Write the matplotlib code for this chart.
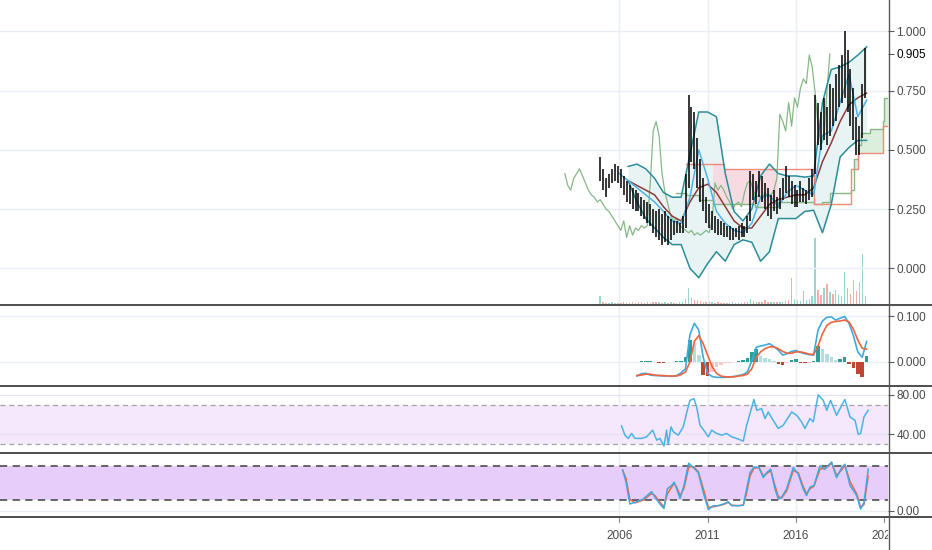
import numpy as np
import matplotlib.pyplot as plt
from matplotlib.lines import Line2D

plt.rcParams['font.family'] = ['Liberation Sans', 'DejaVu Sans']

# ---- price bars (two-month bars) ----
bar_start = 2004.92
bar_high = [
    0.47, 0.42, 0.38, 0.40, 0.42, 0.44, 0.43,
    0.42, 0.39, 0.37, 0.35, 0.34, 0.33,
    0.32, 0.30, 0.29, 0.28, 0.27, 0.25,
    0.24, 0.25, 0.23, 0.24, 0.22, 0.21,
    0.20, 0.20, 0.19, 0.22, 0.40, 0.73,
    0.68, 0.66, 0.55, 0.46, 0.38, 0.30,
    0.27, 0.24, 0.22, 0.21, 0.20, 0.19,
    0.18, 0.18, 0.17, 0.17, 0.18, 0.19,
    0.18, 0.22, 0.41, 0.40, 0.37, 0.41,
    0.39, 0.36, 0.34, 0.31, 0.33, 0.30,
    0.34, 0.38, 0.43, 0.39, 0.37, 0.35,
    0.33, 0.37, 0.34, 0.33, 0.38, 0.42,
    0.73, 0.70, 0.66, 0.72, 0.68, 0.78,
    0.76, 0.82, 0.86, 0.90, 1.00, 0.92,
    0.84, 0.76, 0.64, 0.60, 0.78, 0.93,
]
bar_low = [
    0.37, 0.33, 0.30, 0.34, 0.36, 0.37, 0.36,
    0.34, 0.31, 0.28, 0.27, 0.25, 0.24,
    0.24, 0.22, 0.21, 0.19, 0.18, 0.15,
    0.13, 0.12, 0.10, 0.11, 0.10, 0.12,
    0.14, 0.15, 0.15, 0.15, 0.17, 0.34,
    0.45, 0.42, 0.34, 0.28, 0.24, 0.19,
    0.17, 0.16, 0.15, 0.14, 0.14, 0.13,
    0.13, 0.12, 0.12, 0.13, 0.12, 0.13,
    0.13, 0.15, 0.20, 0.29, 0.27, 0.30,
    0.28, 0.25, 0.22, 0.21, 0.24, 0.23,
    0.25, 0.29, 0.32, 0.30, 0.27, 0.26,
    0.26, 0.28, 0.28, 0.27, 0.29, 0.30,
    0.40, 0.52, 0.50, 0.54, 0.52, 0.56,
    0.60, 0.62, 0.68, 0.70, 0.72, 0.66,
    0.60, 0.54, 0.48, 0.48, 0.55, 0.72,
]
bar_close = [
    0.40, 0.35, 0.33, 0.38, 0.40, 0.42, 0.39,
    0.36, 0.33, 0.31, 0.30, 0.28, 0.29,
    0.27, 0.25, 0.24, 0.22, 0.20, 0.18,
    0.16, 0.20, 0.13, 0.18, 0.14, 0.17,
    0.16, 0.18, 0.17, 0.18, 0.36, 0.58,
    0.62, 0.56, 0.40, 0.32, 0.27, 0.22,
    0.20, 0.21, 0.18, 0.17, 0.16, 0.15,
    0.16, 0.14, 0.15, 0.14, 0.15, 0.16,
    0.15, 0.20, 0.36, 0.33, 0.35, 0.33,
    0.30, 0.28, 0.25, 0.27, 0.28, 0.26,
    0.32, 0.36, 0.37, 0.33, 0.30, 0.31,
    0.29, 0.32, 0.30, 0.31, 0.33, 0.38,
    0.65, 0.62, 0.58, 0.70, 0.60, 0.72,
    0.68, 0.76, 0.80, 0.78, 0.90, 0.85,
    0.74, 0.60, 0.52, 0.55, 0.75, 0.905,
]
bar_volume = [
    12, 3, 2, 2, 3, 2, 2,
    2, 3, 2, 2, 3, 2,
    3, 4, 2, 3, 2, 3,
    4, 3, 2, 3, 2, 3,
    2, 2, 3, 4, 8, 25,
    10, 6, 7, 5, 4, 3,
    4, 3, 2, 3, 2, 2,
    2, 2, 3, 2, 2, 2,
    3, 4, 8, 5, 4, 3,
    4, 6, 3, 3, 4, 3,
    3, 4, 5, 6, 40, 8,
    6, 5, 20, 6, 8, 12,
    100, 21, 14, 25, 30, 18,
    15, 22, 14, 12, 48, 25,
    15, 36, 20, 33, 76, 13,
]
last_price = 0.905
lag_years = 2.0

# ---- overlay lines on the price pane ----
blue_t = [2006.0, 2006.5, 2007.0, 2007.5, 2008.0, 2008.5, 2009.0, 2009.5, 2010.0, 2010.5,
          2011.0, 2011.5, 2012.0, 2012.5, 2013.0, 2013.5, 2014.0, 2014.5, 2015.0, 2015.5,
          2016.0, 2016.5, 2017.0, 2017.5, 2018.0, 2018.5, 2019.0, 2019.5, 2020.0]
blue_ma = [0.40, 0.37, 0.34, 0.31, 0.28, 0.24, 0.20, 0.19, 0.30, 0.50,
           0.38, 0.24, 0.19, 0.16, 0.15, 0.19, 0.30, 0.31, 0.26, 0.32,
           0.35, 0.33, 0.31, 0.56, 0.58, 0.70, 0.82, 0.64, 0.71]

band_t = [2006.5, 2007.0, 2007.5, 2008.0, 2008.5, 2009.0, 2009.5, 2010.0, 2010.5,
          2011.0, 2011.5, 2012.0, 2012.5, 2013.0, 2013.5, 2014.0, 2014.5, 2015.0, 2015.5,
          2016.0, 2016.5, 2017.0, 2017.5, 2018.0, 2018.5, 2019.0, 2019.5, 2020.0]
maroon_ma = [0.37, 0.35, 0.33, 0.31, 0.26, 0.22, 0.20, 0.28, 0.34,
             0.355, 0.32, 0.26, 0.20, 0.17, 0.17, 0.22, 0.27, 0.29, 0.30,
             0.31, 0.31, 0.34, 0.45, 0.53, 0.62, 0.69, 0.72, 0.74]
bb_upper = [0.43, 0.44, 0.42, 0.38, 0.32, 0.30, 0.30, 0.48, 0.66,
            0.66, 0.64, 0.40, 0.24, 0.20, 0.25, 0.39, 0.44, 0.40, 0.39,
            0.39, 0.385, 0.39, 0.70, 0.84, 0.85, 0.87, 0.90, 0.935]
bb_lower = [0.37, 0.28, 0.21, 0.17, 0.13, 0.10, 0.10, 0.00, -0.04,
            0.02, 0.07, 0.03, 0.10, 0.12, 0.11, 0.03, 0.07, 0.21, 0.21,
            0.21, 0.24, 0.245, 0.15, 0.27, 0.47, 0.51, 0.54, 0.54]

cloud_t = [2009.2, 2009.8, 2010.5, 2011.3, 2011.9, 2013.7, 2015.0, 2017.0, 2017.5,
           2017.9, 2019.1, 2019.3, 2019.5, 2019.7, 2020.2, 2020.9, 2021.0, 2021.3]
lead_a = [0.32, 0.31, 0.29, 0.27, 0.27, 0.26, 0.28, 0.27, 0.28,
          0.32, 0.33, 0.46, 0.52, 0.57, 0.59, 0.62, 0.72, 0.72]
lead_b = [np.nan, 0.44, 0.44, 0.44, 0.42, 0.42, 0.42, 0.27, 0.27,
          0.27, 0.42, 0.42, 0.485, 0.485, 0.485, 0.60, 0.60, 0.60]

# ---- MACD (quarterly) ----
macd_t = [2007.0 + 0.25 * k for k in range(53)]
macd_line = [-0.031, -0.026, -0.025, -0.029, -0.030, -0.030, -0.031, -0.031, -0.032, -0.030,
             -0.024, -0.015, 0.060, 0.085, 0.070, 0.010, -0.025, -0.032, -0.034, -0.034,
             -0.034, -0.033, -0.032, -0.030, -0.028, -0.022, 0.002, 0.032, 0.035, 0.037,
             0.040, 0.034, 0.026, 0.015, 0.018, 0.023, 0.025, 0.021, 0.018, 0.016,
             0.015, 0.070, 0.090, 0.098, 0.099, 0.092, 0.096, 0.100, 0.085, 0.058,
             0.022, 0.010, 0.045]
macd_signal = [-0.030, -0.029, -0.027, -0.027, -0.029, -0.030, -0.030, -0.031, -0.031, -0.031,
               -0.028, -0.022, 0.000, 0.045, 0.058, 0.040, 0.015, -0.010, -0.025, -0.031,
               -0.033, -0.033, -0.033, -0.031, -0.030, -0.027, -0.015, 0.010, 0.022, 0.029,
               0.033, 0.033, 0.029, 0.023, 0.019, 0.019, 0.022, 0.022, 0.020, 0.017,
               0.016, 0.035, 0.062, 0.080, 0.087, 0.089, 0.090, 0.092, 0.088, 0.072,
               0.048, 0.030, 0.028]
macd_hist = [0.000, 0.002, 0.003, 0.003, -0.001, -0.002, -0.002, -0.001, -0.001, 0.001,
             0.002, 0.010, 0.048, 0.040, 0.015, -0.028, -0.032, -0.022, -0.012, -0.006,
             -0.003, -0.002, -0.001, 0.001, 0.004, 0.008, 0.022, 0.028, 0.014, 0.008,
             0.006, 0.002, -0.004, -0.006, -0.003, 0.004, 0.006, -0.002, -0.003, -0.002,
             0.002, 0.036, 0.028, 0.018, 0.011, 0.004, 0.007, 0.010, -0.004, -0.014,
             -0.026, -0.034, 0.012]

# ---- RSI ----
rsi_t = [2006.13, 2006.32, 2006.51, 2006.70, 2006.89, 2007.27, 2007.55, 2007.89, 2008.12, 2008.30,
         2008.53, 2008.68, 2008.77, 2008.93, 2009.06, 2009.34, 2009.62, 2009.85, 2010.00, 2010.23,
         2010.38, 2010.57, 2010.85, 2011.04, 2011.23, 2011.51, 2011.80, 2012.08, 2012.36, 2012.64,
         2013.02, 2013.21, 2013.40, 2013.62, 2013.78, 2014.06, 2014.25, 2014.43, 2014.71, 2015.00,
         2015.28, 2015.76, 2016.04, 2016.32, 2016.51, 2016.79, 2016.98, 2017.26, 2017.55, 2017.74,
         2017.96, 2018.30, 2018.77, 2019.06, 2019.34, 2019.53, 2019.66, 2019.85, 2020.09]
rsi = [48.6, 39.3, 36, 41, 36, 36, 37.6, 44.3, 34.3, 36,
       28.3, 44.3, 30, 47.6, 42.6, 39.3, 47.6, 64.3, 74.3, 76,
       67.6, 49.3, 42.6, 37.6, 44.3, 41, 39.3, 41, 37.6, 36,
       33.3, 49.3, 61, 75.3, 64.3, 66, 56, 62.6, 54.3, 46,
       49.3, 62.6, 59.3, 52.6, 46, 56, 52.6, 80, 74.3, 64.3,
       74.3, 59.3, 75.3, 57.6, 54.3, 40, 41, 57.6, 64.3]

# ---- Stochastic ----
stoch_t = [2006.19, 2006.38, 2006.60, 2006.89, 2007.36, 2007.83, 2008.02, 2008.30, 2008.53, 2008.72,
           2008.96, 2009.11, 2009.25, 2009.44, 2009.66, 2009.93, 2010.19, 2010.47, 2010.75, 2011.04,
           2011.32, 2011.60, 2011.89, 2012.17, 2012.36, 2012.74, 2013.02, 2013.21, 2013.40, 2013.62,
           2013.91, 2014.15, 2014.34, 2014.57, 2014.81, 2015.00, 2015.19, 2015.47, 2015.85, 2016.13,
           2016.41, 2016.60, 2016.79, 2017.02, 2017.36, 2017.64, 2017.83, 2018.02, 2018.30, 2018.59,
           2018.77, 2019.06, 2019.44, 2019.66, 2019.85, 2020.09]
stoch_k = [73, 51, 12, 15, 21, 34, 24, 12, 4, 39,
           45, 51, 39, 22, 45, 85, 77, 68, 33, 2,
           9, 9, 12, 16, 9, 9, 10, 39, 68, 78,
           77, 59, 68, 74, 39, 21, 24, 39, 77, 65,
           39, 27, 42, 45, 80, 74, 81, 87, 59, 77,
           83, 45, 27, 3, 15, 74]
stoch_d = [72, 58, 20, 14, 19, 31, 27, 15, 7, 30,
           42, 49, 42, 27, 40, 78, 79, 70, 40, 6,
           7, 9, 11, 15, 10, 9, 10, 32, 62, 76,
           77, 62, 66, 72, 45, 25, 23, 35, 72, 68,
           43, 30, 39, 44, 74, 76, 79, 85, 63, 73,
           81, 52, 30, 6, 11, 62]

year_ticks = [2006, 2011, 2016]
year_labels = ['2006', '2011', '2016', '2021']

# ---------------------------------------------------------------
W, H = 932, 550
XMIN, XMAX = 1970.95, 2021.21
RIGHT = 888
GRID = '#e9eef4'
LABEL = '#4a4a4a'

fig = plt.figure(figsize=(W / 100, H / 100), dpi=100)


def pane(top, bottom):
    return fig.add_axes([0, (H - bottom) / H, RIGHT / W, (bottom - top) / H])


def style(a, ylim, ticks, labels):
    a.set_xlim(XMIN, XMAX)
    a.set_ylim(*ylim)
    for s in a.spines.values():
        s.set_visible(False)
    a.set_xticks([])
    a.yaxis.tick_right()
    a.set_yticks(ticks)
    a.set_yticklabels(labels)
    a.tick_params(axis='y', length=4, width=0.8, color='#5a5a5a',
                  labelsize=8.5, labelcolor=LABEL, pad=2)
    for yr in year_ticks:
        a.axvline(yr, color=GRID, lw=1, zorder=0)


bar_t = bar_start + np.arange(len(bar_high)) / 6
close = np.array(bar_close)

# volume sits behind the price pane
ax_vol = pane(0, 304.5)
ax_vol.set_xlim(XMIN, XMAX)
ax_vol.set_ylim(0, max(bar_volume) / 0.22)
ax_vol.axis('off')
up = np.r_[True, close[1:] >= close[:-1]]
vcol = ['#8fd1cb' if u else '#f3a49b' for u in up]
ax_vol.bar(bar_t, bar_volume, width=0.08, color=vcol, alpha=0.9)

ax = pane(0, 304.5)
ax.patch.set_visible(False)
main_ticks = [0.0, 0.25, 0.5, 0.75, last_price, 1.0]
style(ax, (-0.153, 1.133), main_ticks,
      ['0.000', '0.250', '0.500', '0.750', '0.905', '1.000'])
for v in [0.0, 0.25, 0.5, 0.75, 1.0]:
    ax.axhline(v, color=GRID, lw=1, zorder=0)
lbl = ax.get_yticklabels()[4]
lbl.set_color('black')
ax.yaxis.get_major_ticks()[4].tick2line.set_color('black')

# bollinger band
ax.fill_between(band_t, bb_lower, bb_upper, color='#e8f3f3', lw=0, zorder=1)
ax.plot(band_t, bb_upper, color='#2a8d98', lw=1.1, zorder=3)
ax.plot(band_t, bb_lower, color='#2a8d98', lw=1.1, zorder=3)

# cloud
la = np.array(lead_a)
lb = np.array(lead_b)
ct = np.array(cloud_t)
ax.fill_between(ct, la, lb, where=(lb > la) & (ct >= 2011.3), step='post',
                color='#f6dbe3', lw=0, zorder=1.5)
ax.fill_between(ct, la, lb, where=(la >= lb), step='post',
                color='#dcefdc', lw=0, zorder=1.5)
ax.step(ct, la, where='post', color='#86b886', lw=1, zorder=2)
ax.step(ct, lb, where='post', color='#f08a78', lw=1, zorder=2)

# lagging line
ax.plot(bar_t - lag_years, close, color='#86b886', lw=0.9, zorder=2)

ax.plot(band_t, maroon_ma, color='#8e3b3b', lw=1.1, zorder=4)
ax.plot(blue_t, blue_ma, color='#4fb3e3', lw=1.1, zorder=4)

ax.vlines(bar_t, bar_low, bar_high, color='black', lw=1.1, zorder=5)

# MACD pane
ax_m = pane(305.5, 386)
style(ax_m, (-0.053, 0.124), [0.0, 0.1], ['0.000', '0.100'])
for v in [0.0, 0.1]:
    ax_m.axhline(v, color=GRID, lw=1, zorder=0)
hcol = []
prev = 0.0
for h in macd_hist:
    if h >= 0:
        hcol.append('#2b9e99' if h >= prev else '#b2dfdb')
    else:
        hcol.append('#bf4534' if h <= prev else '#f8c6cb')
    prev = h
ax_m.bar(macd_t, macd_hist, width=0.2, color=hcol, zorder=2)
ax_m.plot(macd_t, macd_line, color='#3fa9e0', lw=1.2, zorder=3)
ax_m.plot(macd_t, macd_signal, color='#f0643f', lw=1.2, zorder=3)

# RSI pane
ax_r = pane(387, 452.5)
style(ax_r, (21.8, 87.8), [40, 80], ['40.00', '80.00'])
ax_r.axhspan(30, 70, color='#f5e7fc', lw=0, zorder=0)
for v in [40, 80]:
    ax_r.axhline(v, color='#e6e3ef', lw=1, zorder=0.5)
for v in [30, 70]:
    ax_r.axhline(v, color='#a3a3a3', lw=0.9, dashes=(4, 3), zorder=1)
ax_r.plot(rsi_t, rsi, color='#4ab4e6', lw=1.1, zorder=3)

# Stochastic pane
ax_s = pane(453.5, 517)
style(ax_s, (-11.2, 102.2), [0], ['0.00'])
ax_s.axhspan(20, 80, color='#e7cefa', lw=0, zorder=0)
ax_s.axhline(0, color=GRID, lw=1, zorder=0)
for v in [20, 80]:
    ax_s.axhline(v, color='#5a5a5a', lw=1.3, dashes=(4, 3), zorder=1)
ax_s.plot(stoch_t, stoch_d, color='#f0643f', lw=1.1, zorder=3)
ax_s.plot(stoch_t, stoch_k, color='#3fa9e0', lw=1.1, zorder=3)

# time axis
ax_t = pane(518, 550)
ax_t.set_xlim(XMIN, XMAX)
ax_t.set_ylim(0, 1)
ax_t.axis('off')
for yr, lab in zip(year_ticks + [2021], year_labels):
    ax_t.text(yr, 0.45, lab, ha='center', va='center', fontsize=8.5,
              color=LABEL, clip_on=True)
    ax_t.plot([yr, yr], [0.88, 1.0], color='#8a8a8a', lw=0.8, clip_on=True)

# separators and right border
for y in [304.5, 386.3, 452.8, 517.3]:
    fig.add_artist(Line2D([0, 1], [1 - y / H] * 2, color='#4d4d4d', lw=1.4))
fig.add_artist(Line2D([(RIGHT + 0.5) / W] * 2, [0, 1], color='#5a5a5a', lw=1))

fig.savefig('out.png', dpi=100, facecolor='white')
